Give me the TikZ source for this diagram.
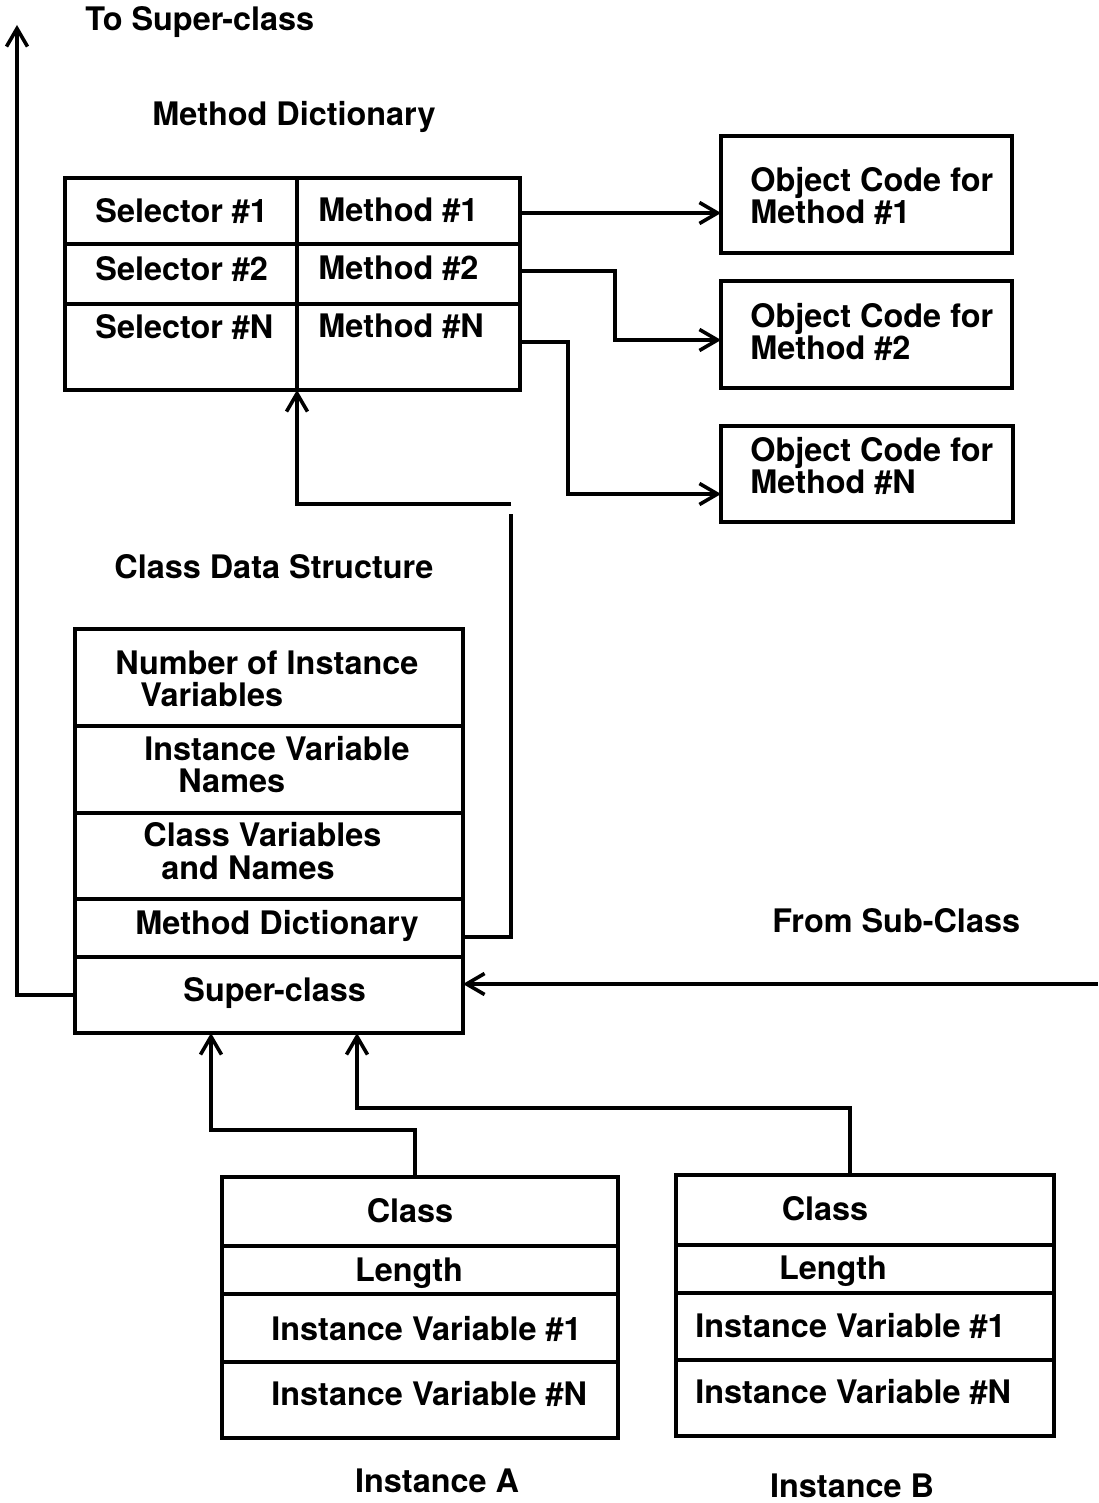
\documentclass[tikz,border=0pt]{standalone}
\usepackage{fontspec}
\setmainfont{TeX Gyre Heros}
\usetikzlibrary{arrows.meta,fit}

\tikzset{
  cellbox/.style={draw, line width=2pt, inner sep=0pt, outer sep=0pt},
  lbl/.style={font=\fontsize{16.2}{18}\selectfont\bfseries, inner sep=0pt,
              text height=11.7pt, text depth=0pt},
  wire/.style={line width=1.8pt},
  arr/.style={wire, -{Straight Barb[length=9pt,width=10.5pt]}},
}

\begin{document}
\begin{tikzpicture}[x=0.5pt, y=-0.5pt]
\useasboundingbox (0,0) rectangle (1098,1503);

% ---------- method dictionary table ----------
\node[cellbox, fit={(65,178) (297,244)}] (sel1) {};
\node[cellbox, fit={(297,178) (520,244)}] (m1) {};
\node[cellbox, fit={(65,244) (297,304)}] (sel2) {};
\node[cellbox, fit={(297,244) (520,304)}] (m2) {};
\node[cellbox, fit={(65,304) (297,390)}] (selN) {};
\node[cellbox, fit={(297,304) (520,390)}] (mN) {};

\node[lbl, anchor=west] (tsel1) at (95,211) {Selector \#1};
\node[lbl, anchor=west] (tm1)   at (318,210) {Method \#1};
\node[lbl, anchor=west] (tsel2) at (95,269) {Selector \#2};
\node[lbl, anchor=west] (tm2)   at (318,268) {Method \#2};
\node[lbl, anchor=west] (tselN) at (95,327) {Selector \#N};
\node[lbl, anchor=west] (tmN)   at (318,326) {Method \#N};

\node[lbl, anchor=west] (mdtitle) at (152,114) {Method Dictionary};
\node[lbl, anchor=west] (tosup)   at (85,19) {To Super-class};

% ---------- object code boxes ----------
\node[cellbox, fit={(721,136) (1012,253)}] (oc1) {};
\node[cellbox, fit={(721,281) (1012,388)}] (oc2) {};
\node[cellbox, fit={(721,426) (1013,522)}] (ocN) {};

\node[lbl, anchor=west] (oc1a) at (750,180) {Object Code for};
\node[lbl, anchor=west] (oc1b) at (750,212) {Method \#1};
\node[lbl, anchor=west] (oc2a) at (750,316) {Object Code for};
\node[lbl, anchor=west] (oc2b) at (750,348) {Method \#2};
\node[lbl, anchor=west] (ocNa) at (750,450) {Object Code for};
\node[lbl, anchor=west] (ocNb) at (750,482) {Method \#N};

% ---------- class data structure ----------
\node[lbl, anchor=west] (cdstitle) at (114,567) {Class Data Structure};

\node[cellbox, fit={(75,629) (463,726)}]  (nv)  {};
\node[cellbox, fit={(75,726) (463,813)}]  (ivn) {};
\node[cellbox, fit={(75,813) (463,899)}]  (cv)  {};
\node[cellbox, fit={(75,899) (463,957)}]  (md)  {};
\node[cellbox, fit={(75,957) (463,1033)}] (sup) {};

\node[lbl, anchor=west] (nva)  at (115,663) {Number of Instance};
\node[lbl, anchor=west] (nvb)  at (140,695) {Variables};
\node[lbl, anchor=west] (ivna) at (144,749) {Instance Variable};
\node[lbl, anchor=west] (ivnb) at (178,781) {Names};
\node[lbl, anchor=west] (cva)  at (143,835) {Class Variables};
\node[lbl, anchor=west] (cvb)  at (161,868) {and Names};
\node[lbl, anchor=west] (mdl)  at (135,923) {Method Dictionary};
\node[lbl, anchor=west] (supl) at (183,990) {Super-class};

\node[lbl, anchor=west] (fromsub) at (772,921) {From Sub-Class};

% ---------- instances ----------
\node[cellbox, fit={(222,1177) (618,1246)}] (aclass) {};
\node[cellbox, fit={(222,1246) (618,1294)}] (alen)   {};
\node[cellbox, fit={(222,1294) (618,1362)}] (aiv1)   {};
\node[cellbox, fit={(222,1362) (618,1438)}] (aivn)   {};

\node[lbl] (aclassl) at (410,1211) {Class};
\node[lbl] (alenl)   at (409,1270) {Length};
\node[lbl, anchor=west] (aiv1l) at (271,1329) {Instance Variable \#1};
\node[lbl, anchor=west] (aivnl) at (271,1394) {Instance Variable \#N};
\node[lbl] (insta) at (437,1481) {Instance A};

\node[cellbox, fit={(676,1175) (1054,1245)}] (bclass) {};
\node[cellbox, fit={(676,1245) (1054,1293)}] (blen)   {};
\node[cellbox, fit={(676,1293) (1054,1360)}] (biv1)   {};
\node[cellbox, fit={(676,1360) (1054,1436)}] (bivn)   {};

\node[lbl] (bclassl) at (825,1209) {Class};
\node[lbl] (blenl)   at (833,1268) {Length};
\node[lbl, anchor=west] (biv1l) at (695,1326) {Instance Variable \#1};
\node[lbl, anchor=west] (bivnl) at (695,1392) {Instance Variable \#N};
\node[lbl] (instb) at (852,1486) {Instance B};

% ---------- connectors ----------
\coordinate (toptip) at (17,25);
\coordinate (subin)  at (1098,984);
\coordinate (gaplow)  at (511,514);
\coordinate (gaphigh) at (511,504);

% super-class link upwards
\draw[arr] (sup.west) -| (toptip);

% method entries to their object code
\draw[arr] ([yshift=-1pt]m1.east) -- (oc1.west |- 0,213);
\draw[arr] ([yshift=1.5pt]m2.east) -| (615,340) -- (oc2.west |- 615,340);
\draw[arr] ([yshift=2.5pt]mN.east) -| (568,494) -- (ocN.west |- 568,494);

% class method dictionary entry to the dictionary table
\draw[wire] ([yshift=-4.5pt]md.east) -| (gaplow);
\draw[arr] (gaphigh) -| (mN.south west);

% link from a sub-class
\draw[arr] (subin) -- (sup.east |- subin);

% instances point to their class
\draw[arr] ([xshift=-2.5pt]aclass.north) |- (211,1130) -- (sup.south -| 211,1130);
\draw[arr] ([xshift=-7.5pt]bclass.north) |- (357,1108) -- (sup.south -| 357,1108);

\end{tikzpicture}
\end{document}
